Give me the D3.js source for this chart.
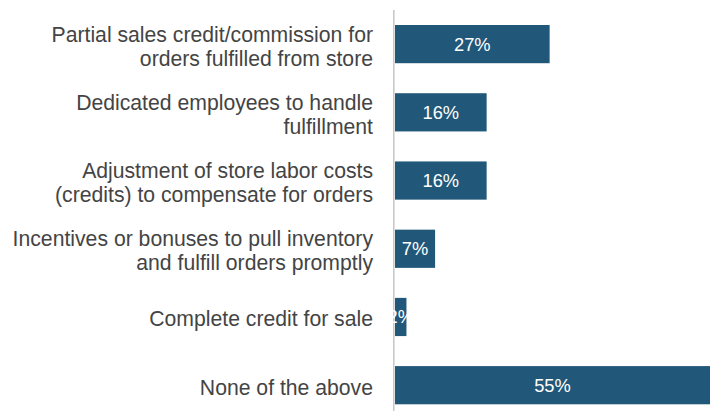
<!DOCTYPE html>
<html>
<head>
<meta charset="utf-8">
<script src="https://cdn.jsdelivr.net/npm/d3@7"></script>
<style>
  body { margin: 0; background: #fff; }
  svg { display: block; }
</style>
</head>
<body>
<div id="chartDiv"></div>
<script>
// survey answers, top to bottom
var categories = [
    ["Partial sales credit/commission for", "orders fulfilled from store"],
    ["Dedicated employees to handle", "fulfillment"],
    ["Adjustment of store labor costs", "(credits) to compensate for orders"],
    ["Incentives or bonuses to pull inventory", "and fulfill orders promptly"],
    ["Complete credit for sale"],
    ["None of the above"]
];
var values = [27, 16, 16, 7, 2, 55];

var width = 714, height = 411;
var barColor = "#215879";

var svg = d3.select("#chartDiv").append("svg")
    .attr("width", width)
    .attr("height", height);

var keys = categories.map((c, i) => i);

let x = d3.scaleLinear()
    .domain([0, 55])
    .range([395, 710]);

let y = d3.scaleBand()
    .domain(keys)
    .range([10, 419.3])
    .paddingInner(0.44)
    .paddingOuter(0.22);

// vertical axis line
svg.append("line")
    .attr("x1", x(0) - 1.2).attr("x2", x(0) - 1.2)
    .attr("y1", y.range()[0]).attr("y2", y.range()[1])
    .attr("stroke", "#c6c6c6")
    .attr("stroke-width", 1.5);

// bars
svg.selectAll("rect.bar")
    .data(values)
    .enter().append("rect")
    .attr("class", "bar")
    .attr("x", x(0))
    .attr("y", (d, i) => y(i))
    .attr("width", d => x(d) - x(0))
    .attr("height", y.bandwidth())
    .attr("fill", barColor);

// value labels
svg.selectAll("text.value")
    .data(values)
    .enter().append("text")
    .attr("class", "value")
    .attr("x", d => (x(0) + x(d)) / 2)
    .attr("y", (d, i) => y(i) + y.bandwidth() / 2)
    .attr("dy", "0.35em")
    .attr("text-anchor", "middle")
    .attr("fill", "#ffffff")
    .style("font-family", "'Liberation Sans', Arial, sans-serif")
    .style("font-size", "18.3px")
    .text(d => d + "%");

// category labels
var lineHeight = 24;
let labels = svg.selectAll("text.cat")
    .data(categories)
    .enter().append("text")
    .attr("class", "cat")
    .attr("text-anchor", "end")
    .attr("fill", "#444444")
    .style("font-family", "'Liberation Sans', Arial, sans-serif")
    .style("font-size", "21.2px");

labels.each(function(lines, i) {
    let cy = y(i) + y.bandwidth() / 2 + 2;
    let top = cy - (lines.length - 1) * lineHeight / 2;
    d3.select(this).selectAll("tspan")
        .data(lines)
        .enter().append("tspan")
        .attr("x", 373)
        .attr("y", (l, j) => top + j * lineHeight)
        .attr("dy", "0.35em")
        .text(l => l);
});
</script>
</body>
</html>
